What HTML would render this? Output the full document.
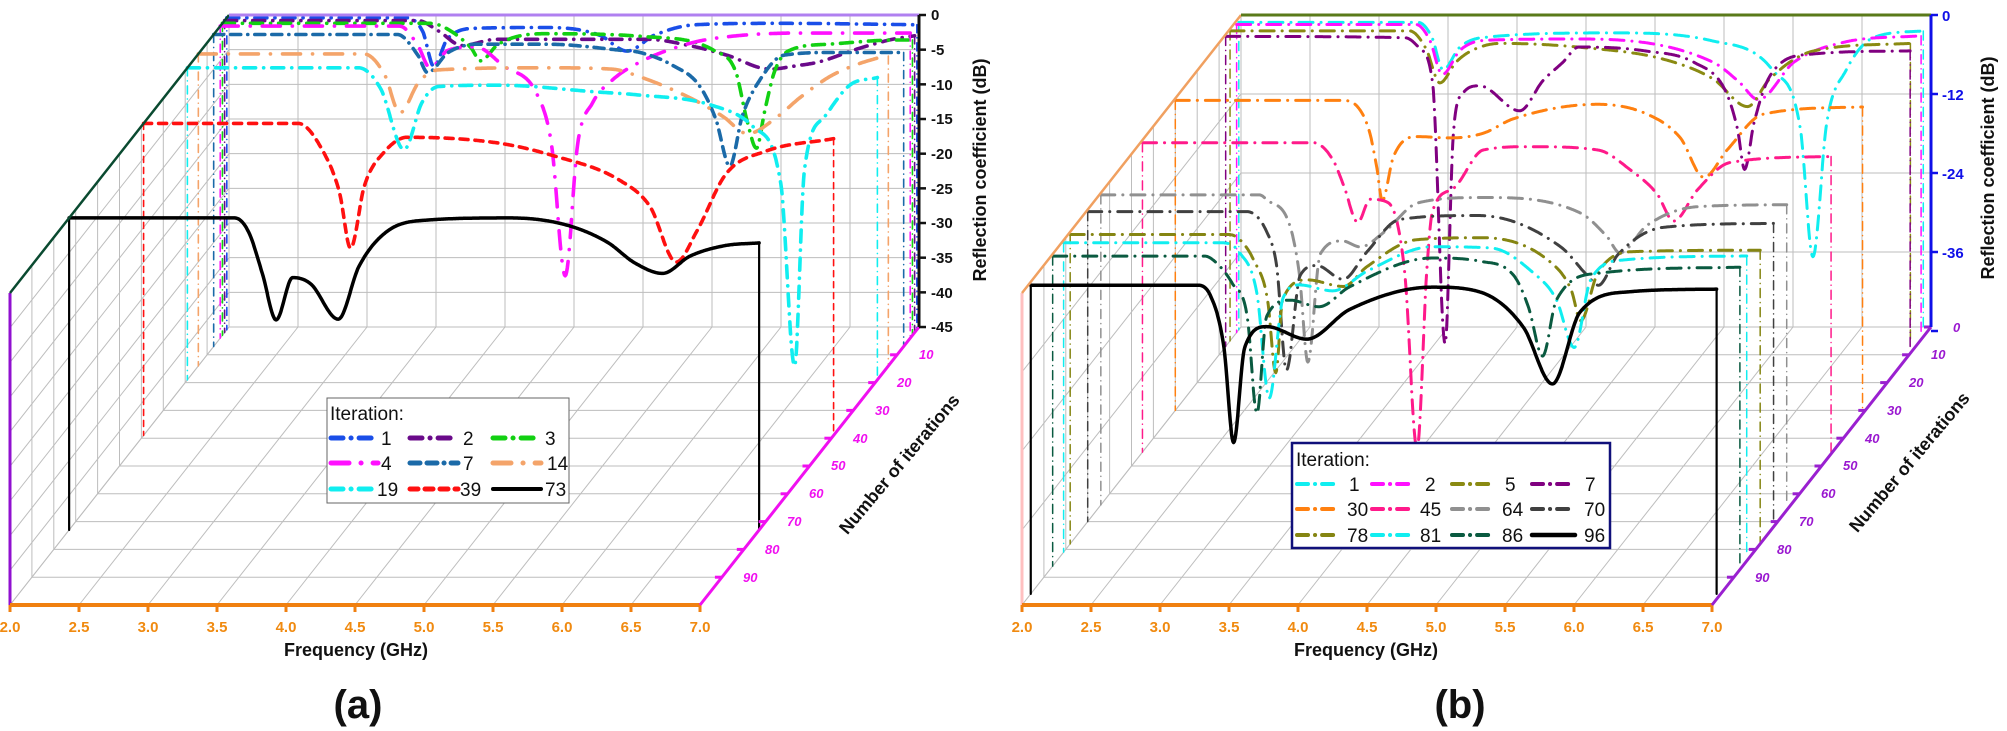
<!DOCTYPE html>
<html><head><meta charset="utf-8"><style>
html,body{margin:0;padding:0;background:#fff}
svg{display:block}
text{font-family:"Liberation Sans Narrow","Liberation Sans",sans-serif}
.tk{font-weight:bold;font-size:15px;fill:#f08a10;text-anchor:middle}
.ttl{font-family:"Liberation Sans",sans-serif;font-weight:bold;font-size:18px;fill:#111;text-anchor:middle}
.big{font-family:"Liberation Sans",sans-serif;font-weight:bold;font-size:40px;fill:#111;text-anchor:middle}
.ry{font-family:"Liberation Sans",sans-serif;font-weight:bold;font-size:15px}
.dl{font-family:"Liberation Sans",sans-serif;font-weight:bold;font-style:italic;font-size:13px}
.lg{font-size:19px;fill:#111}
</style></head><body>
<svg id="s" width="2007" height="731" viewBox="0 0 2007 731" xmlns="http://www.w3.org/2000/svg">
<rect width="2007" height="731" fill="#fff"/>
<g id="grid"></g>
<g id="curves"></g>
<g id="axes"></g>
<!-- panel a texts -->
<g>
<text class="tk" x="10" y="632">2.0</text><text class="tk" x="79" y="632">2.5</text><text class="tk" x="148" y="632">3.0</text><text class="tk" x="217" y="632">3.5</text><text class="tk" x="286" y="632">4.0</text><text class="tk" x="355" y="632">4.5</text><text class="tk" x="424" y="632">5.0</text><text class="tk" x="493" y="632">5.5</text><text class="tk" x="562" y="632">6.0</text><text class="tk" x="631" y="632">6.5</text><text class="tk" x="700" y="632">7.0</text>
<text class="ttl" x="356" y="656">Frequency (GHz)</text>
<text class="big" x="358" y="718">(a)</text>
<g class="ry" fill="#111">
<text x="931" y="20">0</text><text x="931" y="55">-5</text><text x="931" y="90">-10</text><text x="931" y="124">-15</text><text x="931" y="159">-20</text><text x="931" y="194">-25</text><text x="931" y="228">-30</text><text x="931" y="263">-35</text><text x="931" y="298">-40</text><text x="931" y="332">-45</text>
</g>
<text class="ttl" transform="translate(986,170) rotate(-90)" font-size="19">Reflection coefficient (dB)</text>
<text class="ttl" transform="translate(904,468) rotate(-50)">Number of iterations</text>
<g class="dl" fill="#f010f0">
<text x="919" y="359">10</text><text x="897" y="387">20</text><text x="875" y="415">30</text><text x="853" y="443">40</text><text x="831" y="470">50</text><text x="809" y="498">60</text><text x="787" y="526">70</text><text x="765" y="554">80</text><text x="743" y="582">90</text>
</g>
<rect x="327" y="398" width="242" height="105" fill="#fff" stroke="#666" stroke-width="1"/>
<text class="lg" x="330" y="420">Iteration:</text>
<g id="lga"></g>
<g class="lg">
<text x="381" y="445">1</text><text x="463" y="445">2</text><text x="545" y="445">3</text>
<text x="381" y="470">4</text><text x="463" y="470">7</text><text x="547" y="470">14</text>
<text x="377" y="496">19</text><text x="460" y="496">39</text><text x="545" y="496">73</text>
</g>
</g>
<!-- panel b texts -->
<g>
<text class="tk" x="1022" y="632">2.0</text><text class="tk" x="1091" y="632">2.5</text><text class="tk" x="1160" y="632">3.0</text><text class="tk" x="1229" y="632">3.5</text><text class="tk" x="1298" y="632">4.0</text><text class="tk" x="1367" y="632">4.5</text><text class="tk" x="1436" y="632">5.0</text><text class="tk" x="1505" y="632">5.5</text><text class="tk" x="1574" y="632">6.0</text><text class="tk" x="1643" y="632">6.5</text><text class="tk" x="1712" y="632">7.0</text>
<text class="ttl" x="1366" y="656">Frequency (GHz)</text>
<text class="big" x="1460" y="718">(b)</text>
<g class="ry" fill="#1010e8">
<text x="1942" y="21">0</text><text x="1942" y="100">-12</text><text x="1942" y="179">-24</text><text x="1942" y="258">-36</text>
</g>
<text class="ttl" transform="translate(1994,168) rotate(-90)" font-size="19">Reflection coefficient (dB)</text>
<text class="ttl" transform="translate(1914,466) rotate(-50)">Number of iterations</text>
<g class="dl" fill="#9a18d0">
<text x="1953" y="332">0</text><text x="1931" y="359">10</text><text x="1909" y="387">20</text><text x="1887" y="415">30</text><text x="1865" y="443">40</text><text x="1843" y="470">50</text><text x="1821" y="498">60</text><text x="1799" y="526">70</text><text x="1777" y="554">80</text><text x="1755" y="582">90</text>
</g>
<rect x="1292" y="443" width="318" height="105" fill="#fff" stroke="#10107a" stroke-width="2.5"/>
<text class="lg" x="1296" y="466">Iteration:</text>
<g id="lgb"></g>
<g class="lg">
<text x="1349" y="491">1</text><text x="1425" y="491">2</text><text x="1505" y="491">5</text><text x="1585" y="491">7</text>
<text x="1347" y="516">30</text><text x="1420" y="516">45</text><text x="1502" y="516">64</text><text x="1584" y="516">70</text>
<text x="1347" y="542">78</text><text x="1420" y="542">81</text><text x="1502" y="542">86</text><text x="1584" y="542">96</text>
</g>
</g>
</svg>
<script>
(function(){
var NS="http://www.w3.org/2000/svg";
function el(p,t,a){var e=document.createElementNS(NS,t);for(var k in a)e.setAttribute(k,a[k]);p.appendChild(e);return e;}
var G=document.getElementById('grid'),C=document.getElementById('curves'),A=document.getElementById('axes');
function P(ox,R){return{X:function(f,n){return ox+10+219*(1-n/100)+(f-2)*138;},Y:function(d,n){return 605-278*(1-n/100)-(R+d)/R*312;}};}
function line(g,x1,y1,x2,y2,c,w){el(g,'line',{x1:x1,y1:y1,x2:x2,y2:y2,stroke:c,'stroke-width':w});}
function grid(p,R,dbs){
 var gc="#bdbdbd";
 for(var f=2;f<=7.001;f+=0.5){line(G,p.X(f,0),p.Y(0,0),p.X(f,0),p.Y(-R,0),gc,1);line(G,p.X(f,0),p.Y(-R,0),p.X(f,100),p.Y(-R,100),gc,1);}
 dbs.forEach(function(d){line(G,p.X(2,0),p.Y(d,0),p.X(7,0),p.Y(d,0),gc,1);line(G,p.X(2,0),p.Y(d,0),p.X(2,100),p.Y(d,100),gc,1);});
 for(var n=0;n<=100;n+=10){line(G,p.X(2,n),p.Y(-R,n),p.X(7,n),p.Y(-R,n),gc,1);line(G,p.X(2,n),p.Y(-R,n),p.X(2,n),p.Y(0,n),gc,1);}
}
function mono(pts){
 var n=pts.length,x=pts.map(function(q){return q[0]}),y=pts.map(function(q){return q[1]}),d=[],m=[];
 for(var i=0;i<n-1;i++)d.push((y[i+1]-y[i])/(x[i+1]-x[i]));
 m[0]=d[0];m[n-1]=d[n-2];
 for(i=1;i<n-1;i++){m[i]=(d[i-1]*d[i]<=0)?0:(d[i-1]+d[i])/2;}
 for(i=0;i<n-1;i++){if(d[i]==0){m[i]=0;m[i+1]=0;continue;}var a=m[i]/d[i],b=m[i+1]/d[i],s=a*a+b*b;if(s>9){var t=3/Math.sqrt(s);m[i]=t*a*d[i];m[i+1]=t*b*d[i];}}
 return function(xx){var k=0;while(k<n-2&&xx>x[k+1])k++;var h=x[k+1]-x[k],t=(xx-x[k])/h,t2=t*t,t3=t2*t;
  return (2*t3-3*t2+1)*y[k]+(t3-2*t2+t)*h*m[k]+(-2*t3+3*t2)*y[k+1]+(t3-t2)*h*m[k+1];};
}
function curve(p,R,n,pts,col,w,dash,dw,ddash){
 var fn=mono(pts),f0=pts[0][0],f1=pts[pts.length-1][0],s="";
 for(var f=f0;f<=f1+1e-9;f+=0.005){var v=Math.min(0.3,fn(f));s+=(s?"L":"M")+p.X(f,n).toFixed(1)+","+p.Y(v,n).toFixed(1);}
 var yf=p.Y(-R,n);
 var da={stroke:col,'stroke-width':dw,fill:'none','stroke-linecap':'round'};if(ddash)da['stroke-dasharray']=ddash;
 var d1=Object.assign({x1:p.X(f0,n),y1:p.Y(pts[0][1],n),x2:p.X(f0,n),y2:yf},da);el(C,'line',d1);
 var d2=Object.assign({x1:p.X(f1,n),y1:p.Y(pts[pts.length-1][1],n),x2:p.X(f1,n),y2:yf},da);el(C,'line',d2);
 var a={d:s,stroke:col,'stroke-width':w,fill:'none','stroke-linecap':'round','stroke-linejoin':'round'};if(dash)a['stroke-dasharray']=dash;
 el(C,'path',a);
}
// Panel a
var pa=P(0,45),dba=[];for(var i=0;i<=9;i++)dba.push(-5*i);
grid(pa,45,dba);
var DD="12,8,0.1,8",LD="18,12,0.1,12",DDD="10,7,10,7,0.1,7",DS="8,7";
var A_=[
[1,"#1a4ee8",DD,[[2,0],[3.3,0],[3.42,-2],[3.5,-7],[3.6,-3],[3.82,-1.5],[4.32,-1.4],[4.7,-2.5],[4.9,-4.8],[5.1,-2.5],[5.4,-1],[6,-0.8],[7,-1]]],
[2,"#6a0a8a",DD,[[2,0],[3.4,0],[3.55,-1.5],[3.72,-3.6],[3.97,-2.7],[5.06,-2.7],[5.39,-3.7],[5.64,-5],[5.95,-7],[6.15,-6.5],[6.3,-6],[6.6,-4],[6.84,-2.7],[7,-2.2]]],
[3,"#12d012",DD,[[2,0],[3.5,0],[3.6,-0.5],[3.8,-3.5],[3.87,-5.4],[4.0,-3],[4.32,-1.5],[5.05,-1.9],[5.57,-4],[5.72,-7],[5.8,-13.9],[5.87,-18],[5.93,-12.6],[6.0,-7],[6.1,-4],[6.4,-3],[6.89,-2.4],[7,-2.4]]],
[4,"#ff10ff",LD,[[2,0],[3.3,0],[3.43,-2.7],[3.52,-6],[3.65,-3.5],[3.85,-3],[4.05,-5.7],[4.3,-10],[4.4,-17],[4.5,-36],[4.59,-17],[4.7,-11],[4.84,-7.8],[5.02,-5.4],[5.4,-2.5],[5.69,-1.5],[6.2,-1],[7,-1]]],
[7,"#1b6aa8",DDD,[[2,0],[3.33,0],[3.48,-3],[3.55,-5.5],[3.7,-2.6],[3.91,-1.4],[4.41,-1.4],[4.96,-2.3],[5.09,-2.6],[5.33,-4.5],[5.52,-7.4],[5.64,-12.3],[5.74,-19],[5.83,-11.8],[5.96,-6.5],[6.13,-3],[6.5,-2.6],[7,-2.6]]],
[14,"#f4a46a",LD,[[2,0],[3.2,0],[3.35,-3],[3.46,-8.5],[3.6,-4],[3.74,-2.3],[4.53,-2],[5.0,-2.2],[5.2,-3.3],[5.56,-6.3],[5.8,-9],[5.98,-11.5],[6.2,-9],[6.36,-6.3],[6.6,-3],[6.94,-0.5],[7,-0.3]]],
[19,"#10eef0",DD,[[2,0],[3.24,0],[3.4,-3],[3.57,-11.8],[3.7,-5],[3.82,-2.7],[4.25,-2.5],[4.98,-3.5],[5.26,-3.9],[5.8,-5.4],[6.1,-8.5],[6.3,-16.7],[6.4,-43],[6.47,-15],[6.62,-7],[6.8,-2.5],[7,-1.4]]],
[39,"#ff1010",DS,[[2,0],[3.12,0],[3.3,-4],[3.42,-10],[3.5,-18],[3.6,-9],[3.75,-4],[3.91,-2],[4.56,-2.8],[4.96,-4.6],[5.45,-8.2],[5.67,-12],[5.86,-20],[6.01,-15.5],[6.22,-7.3],[6.51,-4],[7,-2.2]]],
[73,"#000",null,[[2,0],[3.2,0],[3.3,-2],[3.4,-8],[3.5,-14.7],[3.62,-8.6],[3.75,-9.5],[3.95,-14.6],[4.1,-7],[4.3,-2],[4.6,-0.3],[5.2,0],[5.6,-1],[5.9,-3.5],[6.1,-6.5],[6.3,-8],[6.5,-5.5],[6.75,-4],[7,-3.6]]]];
A_.forEach(function(c){curve(pa,45,c[0],c[3],c[1],c[0]==73?3.5:3.6,c[2],c[0]==73?2.2:1.6,c[2]?(c[2]==DS?"6,5":"8,5,0.1,5"):null);});
// Panel b
var pb=P(1012,47.4);grid(pb,47.4,[0,-12,-24,-36,-47.4]);
var B_=[
[1,"#10eef0",[[2,-0.7],[3.3,-0.7],[3.4,-3],[3.48,-7.9],[3.6,-4.5],[3.77,-3],[4.71,-2.3],[5.43,-3.5],[5.87,-8],[6.07,-17],[6.16,-36.3],[6.26,-16],[6.4,-8],[6.6,-3],[6.96,-2]]],
[2,"#ff10ff",[[2,-0.6],[3.3,-0.6],[3.4,-3],[3.49,-8.2],[3.62,-4.5],[3.8,-3],[4.49,-2.8],[5.45,-6.3],[5.64,-9.3],[5.78,-12],[6.04,-6.3],[6.4,-3.3],[6.96,-2.3]]],
[5,"#8a8a12",[[2,-0.3],[3.3,-0.3],[3.42,-3],[3.52,-8.2],[3.64,-5],[3.76,-3.2],[3.96,-2.2],[4.54,-2.8],[5.14,-4.6],[5.5,-7.6],[5.75,-11.8],[5.91,-7.6],[6.22,-3.4],[6.93,-2.2]]],
[7,"#800080",[[2,-0.3],[3.3,-0.5],[3.4,-2],[3.5,-7.5],[3.59,-47],[3.65,-15],[3.72,-8.9],[3.84,-7.8],[4.13,-11.6],[4.3,-7],[4.44,-4.3],[4.56,-1.9],[5.04,-2.5],[5.4,-4.3],[5.62,-8.5],[5.71,-14.5],[5.76,-20.5],[5.83,-13.3],[5.95,-6.1],[6.24,-3],[6.96,-2.5]]],
[30,"#ff8010",[[2,-0.3],[3.22,-0.3],[3.34,-1.8],[3.41,-5.3],[3.46,-10.5],[3.5,-15.5],[3.58,-8.9],[3.75,-5.8],[3.99,-6],[4.23,-5.3],[4.45,-3.1],[5.06,-0.9],[5.42,-2.4],[5.66,-6],[5.83,-12],[6.0,-7.8],[6.26,-2.4],[6.98,-1.3]]],
[45,"#ff1a8a",[[2,-0.4],[3.24,-0.4],[3.38,-3],[3.46,-7],[3.56,-12.5],[3.65,-9],[3.78,-9.5],[3.9,-20],[3.99,-47],[4.06,-20],[4.1,-11],[4.25,-7.4],[4.47,-1.5],[4.81,-1],[5.3,-1.5],[5.54,-4.6],[5.73,-8.2],[5.85,-12.3],[6.02,-7.6],[6.26,-3.4],[6.99,-2.5]]],
[64,"#909090",[[2,-0.3],[3.15,-0.3],[3.2,-1],[3.37,-5],[3.44,-12.6],[3.5,-25.7],[3.59,-9.3],[3.75,-7.3],[3.88,-8.2],[4.05,-6],[4.3,-1.5],[4.77,-0.7],[5.47,-3],[5.67,-6.7],[5.76,-9.1],[5.96,-4.9],[6.32,-2.1],[6.97,-1.8]]],
[70,"#404040",[[2,-0.3],[3.15,-0.3],[3.3,-3.5],[3.37,-8.7],[3.44,-24.4],[3.54,-10],[3.66,-8.5],[3.85,-10.6],[4.02,-6.5],[4.26,-1.5],[4.83,-0.9],[5.43,-5.7],[5.62,-10],[5.7,-11.5],[5.84,-6.9],[6.17,-2.7],[6.97,-2.1]]],
[78,"#858512",[[2,-0.4],[3.15,-0.4],[3.23,-1.2],[3.33,-4.3],[3.43,-10.3],[3.49,-21.4],[3.54,-10.3],[3.72,-7.3],[3.98,-8.3],[4.15,-5.3],[4.51,-1.2],[4.99,-0.9],[5.48,-4.6],[5.63,-8.8],[5.7,-13.5],[5.82,-6.4],[6.09,-3],[7,-2.8]]],
[81,"#10eef0",[[2,-0.4],[3.15,-0.4],[3.28,-2],[3.4,-8],[3.49,-24],[3.59,-8.8],[3.71,-6.8],[3.95,-7.7],[4.2,-4.7],[4.67,-1],[5.1,-1.2],[5.4,-4.9],[5.57,-9],[5.7,-16.3],[5.82,-6],[6.06,-3],[6.95,-2.4]]],
[86,"#0a5a40",[[2,-0.3],[3.1,-0.3],[3.19,-1.4],[3.3,-4.4],[3.41,-9.5],[3.48,-24.2],[3.55,-9.5],[3.72,-7],[3.93,-8],[4.15,-5],[4.75,-0.6],[5.1,-1.1],[5.35,-3.5],[5.45,-8.2],[5.55,-15.5],[5.65,-7],[5.96,-2.9],[6.98,-2]]],
[96,"#000",[[2,-0.5],[3.2,-0.5],[3.3,-2],[3.4,-10],[3.47,-24.4],[3.55,-10],[3.71,-6.8],[4.0,-8.7],[4.31,-4.2],[4.91,-0.8],[5.25,-1.5],[5.57,-6.9],[5.78,-15.5],[5.98,-4.6],[6.34,-1.5],[6.97,-1.1]]]];
B_.forEach(function(c){var bl=c[0]==96;curve(pb,47.4,c[0],c[2],c[1],bl?3.5:3,bl?null:"14,8,0.1,8",bl?2.2:1.5,bl?null:"9,5,0.1,5");});
// axes
[[0,"#9010d0","#0a4a30","#b080f0","#f010f0","#111"],[1012,"#ffc0c0","#f0a060","#5a7a1a","#9a20d0","#1010e8"]].forEach(function(q){
 var o=q[0];
 line(A,o+10,293,o+10,605,q[1],3);
 line(A,o+10,293,o+229,15,q[2],2.5);
 line(A,o+229,15,o+919,15,q[3],3);
 line(A,o+10,605,o+700,605,"#f08010",4);
 for(var k=0;k<=10;k++)line(A,o+10+69*k,605,o+10+69*k,612,"#f08010",3);
 line(A,o+700,605,o+919,327,q[4],3);
 for(var n=(o?0:10);n<=90;n+=10){var x=o+700+219*(1-n/100),y=605-278*(1-n/100);line(A,x-7,y,x,y,q[4],3);}
 line(A,o+919,15,o+919,327,q[5],3);
 var st=o?79:34.67,cnt=o?4:9;
 for(k=0;k<=cnt;k++){var yy=15+st*k;line(A,o+919,yy,o+926,yy,q[5],2.5);}
});
// legends
function lgl(g,x1,x2,y,c,w,d){var a={x1:x1,y1:y,x2:x2,y2:y,stroke:c,'stroke-width':w,'stroke-linecap':'round'};if(d)a['stroke-dasharray']=d;el(g,'line',a);}
var la=document.getElementById('lga');
var cols=[[331,378],[410,458],[493,541]],rows=[438,463,489];
A_.forEach(function(c,i){var cc=cols[i%3],r=rows[Math.floor(i/3)];lgl(la,cc[0],cc[1],r,c[1],c[0]==73?4:5,c[2]);});
var lb=document.getElementById('lgb');
var colb=[[1297,1339],[1372,1414],[1452,1492],[1532,1575]],rowb=[484,509,535];
B_.forEach(function(c,i){var cc=colb[i%4],r=rowb[Math.floor(i/4)];lgl(lb,cc[0],cc[1],r,c[1],c[0]==96?4.5:4,c[0]==96?null:"11,7,0.1,7");});
})();
</script>
</body></html>
